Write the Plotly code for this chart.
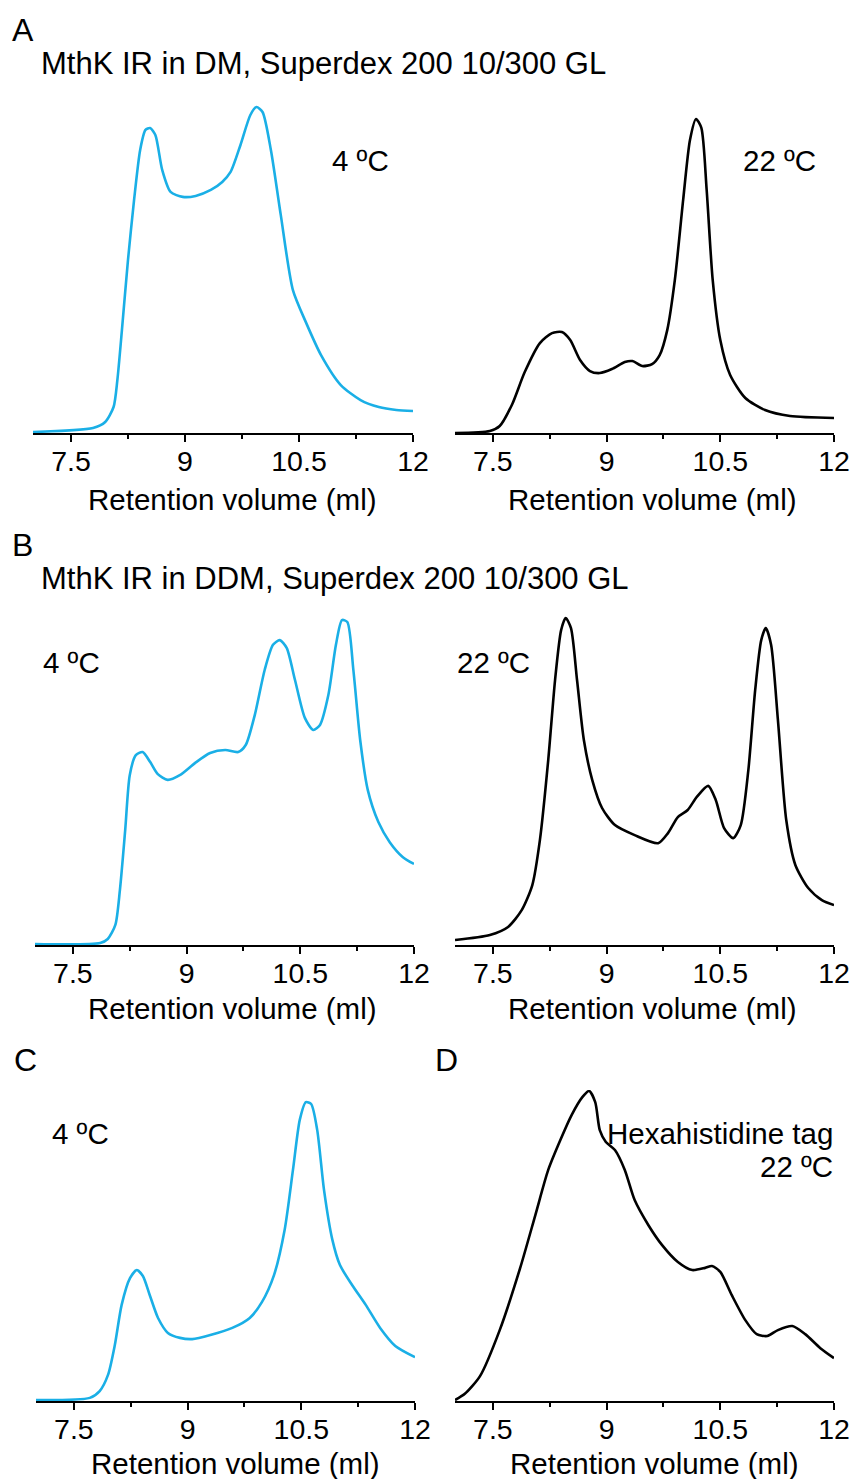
import plotly.graph_objects as go

W, H = 853, 1479
BLUE = "#1AAFE6"
BLACK = "#000000"
FONT = "Liberation Sans, Arial, sans-serif"
FS = 28.5   # tick labels
FT = 29.5   # axis titles and panel texts

# ---------- data (retention volume ml, normalized absorbance) ----------
a4_x = [7.00, 7.79, 7.95, 8.06, 8.11, 8.17, 8.25, 8.33, 8.41, 8.48, 8.54, 8.61, 8.70, 8.81, 8.97,
        9.14, 9.34, 9.49, 9.60, 9.73, 9.86, 9.94, 10.02, 10.13, 10.26, 10.42, 10.59, 10.79, 11.05,
        11.31, 11.55, 11.78, 12.00]
a4_y = [0.003, 0.015, 0.033, 0.078, 0.159, 0.309, 0.520, 0.700, 0.850, 0.910, 0.916, 0.895, 0.790,
        0.724, 0.709, 0.712, 0.730, 0.754, 0.784, 0.865, 0.955, 0.979, 0.964, 0.850, 0.655, 0.429,
        0.333, 0.234, 0.144, 0.099, 0.078, 0.069, 0.066]

a22_x = [7.00, 7.46, 7.59, 7.75, 7.92, 8.12, 8.28, 8.41, 8.52, 8.65, 8.78, 8.91, 9.07, 9.24, 9.34,
         9.47, 9.60, 9.70, 9.80, 9.90, 10.01, 10.10, 10.18, 10.25, 10.32, 10.40, 10.50, 10.63,
         10.83, 11.09, 11.42, 12.00]
a22_y = [0.000, 0.006, 0.021, 0.084, 0.183, 0.270, 0.300, 0.303, 0.279, 0.219, 0.186, 0.180, 0.192,
         0.213, 0.216, 0.201, 0.207, 0.234, 0.309, 0.459, 0.700, 0.880, 0.943, 0.916, 0.730, 0.459,
         0.279, 0.174, 0.105, 0.069, 0.051, 0.045]

b4_x = [7.00, 7.86, 7.96, 8.06, 8.12, 8.19, 8.25, 8.33, 8.42, 8.52, 8.62, 8.75, 8.91, 9.11, 9.31,
        9.51, 9.68, 9.78, 9.90, 10.03, 10.14, 10.23, 10.32, 10.43, 10.56, 10.67, 10.76, 10.87,
        10.97, 11.05, 11.12, 11.20, 11.29, 11.39, 11.53, 11.68, 11.85, 12.00]
b4_y = [0.003, 0.006, 0.018, 0.060, 0.164, 0.343, 0.507, 0.567, 0.576, 0.546, 0.510, 0.493, 0.507,
        0.543, 0.573, 0.582, 0.576, 0.597, 0.687, 0.821, 0.896, 0.910, 0.887, 0.791, 0.678, 0.642,
        0.657, 0.746, 0.896, 0.970, 0.964, 0.821, 0.612, 0.463, 0.367, 0.307, 0.263, 0.242]

b22_x = [7.00, 7.46, 7.70, 7.88, 8.02, 8.12, 8.23, 8.32, 8.40, 8.46, 8.53, 8.61, 8.70, 8.81, 8.94,
         9.11, 9.37, 9.68, 9.81, 9.94, 10.07, 10.19, 10.34, 10.44, 10.55, 10.67, 10.77, 10.87,
         10.96, 11.04, 11.10, 11.17, 11.26, 11.37, 11.49, 11.66, 11.84, 12.00]
b22_y = [0.015, 0.030, 0.054, 0.104, 0.179, 0.313, 0.552, 0.791, 0.940, 0.976, 0.946, 0.791, 0.612,
         0.493, 0.409, 0.358, 0.328, 0.304, 0.334, 0.382, 0.403, 0.442, 0.475, 0.433, 0.349, 0.319,
         0.358, 0.522, 0.761, 0.910, 0.946, 0.896, 0.672, 0.373, 0.239, 0.170, 0.134, 0.119]

c4_x = [7.00, 7.71, 7.84, 7.95, 8.04, 8.13, 8.24, 8.33, 8.41, 8.50, 8.61, 8.74, 8.90, 9.06, 9.30,
        9.59, 9.82, 9.98, 10.14, 10.28, 10.39, 10.48, 10.56, 10.63, 10.71, 10.80, 10.91, 11.01,
        11.17, 11.35, 11.54, 11.74, 12.00]
c4_y = [0.003, 0.010, 0.032, 0.084, 0.180, 0.309, 0.395, 0.421, 0.402, 0.341, 0.267, 0.219, 0.203,
        0.199, 0.212, 0.235, 0.267, 0.318, 0.405, 0.550, 0.743, 0.904, 0.961, 0.955, 0.871, 0.678,
        0.518, 0.437, 0.373, 0.309, 0.235, 0.177, 0.141]

d22_x = [7.00, 7.13, 7.33, 7.59, 7.86, 8.06, 8.23, 8.39, 8.54, 8.68, 8.77, 8.85, 8.91, 8.99, 9.11,
         9.24, 9.37, 9.55, 9.73, 9.94, 10.13, 10.30, 10.39, 10.50, 10.65, 10.83, 10.98, 11.12,
         11.26, 11.45, 11.62, 11.82, 12.00]
d22_y = [0.003, 0.023, 0.080, 0.228, 0.428, 0.598, 0.743, 0.839, 0.920, 0.977, 0.997, 0.961, 0.871,
         0.833, 0.807, 0.743, 0.646, 0.566, 0.502, 0.447, 0.421, 0.428, 0.434, 0.415, 0.341, 0.260,
         0.215, 0.209, 0.228, 0.241, 0.215, 0.170, 0.138]

tick_vals = [7.5, 9, 10.5, 12]
tick_text = ["7.5", "9", "10.5", "12"]
minor_vals = [8.25, 9.75, 11.25]
x_title = "Retention volume (ml)"


def px_x(p):
    return p / W


def px_y(p):
    return 1 - p / H


# panels: (x, y, color, left px, right px, bottom px, top px, axis-title centre px x, y)
panels = [
    (a4_x, a4_y, BLUE, 33, 413, 433, 100, 232, 500),
    (a22_x, a22_y, BLACK, 455, 834, 433, 100, 652, 500),
    (b4_x, b4_y, BLUE, 35, 414, 945, 610, 232, 1008),
    (b22_x, b22_y, BLACK, 455, 834, 945, 610, 652, 1008),
    (c4_x, c4_y, BLUE, 36, 415, 1401, 1090, 235, 1463),
    (d22_x, d22_y, BLACK, 455, 834, 1401, 1090, 654, 1463),
]

fig = go.Figure()
layout = dict(
    width=W, height=H, autosize=False,
    margin=dict(l=0, r=0, t=0, b=0, pad=0),
    paper_bgcolor="white", plot_bgcolor="white",
    showlegend=False,
    font=dict(family=FONT, color="black", size=FS),
)
annotations = []

for i, (xs, ys, col, l, r, b, t, tx, ty) in enumerate(panels, start=1):
    xa = "x" if i == 1 else f"x{i}"
    ya = "y" if i == 1 else f"y{i}"
    fig.add_trace(go.Scatter(
        x=xs, y=ys, mode="lines", xaxis=xa, yaxis=ya,
        line=dict(color=col, width=2.6, shape="spline", smoothing=0.7),
        hoverinfo="skip"))
    key = "" if i == 1 else str(i)
    layout["xaxis" + key] = dict(
        domain=[px_x(l), px_x(r)], anchor=ya, range=[7, 12],
        showline=True, linecolor="black", linewidth=2,
        ticks="outside", ticklen=7, tickwidth=2, tickcolor="black",
        tickvals=tick_vals, ticktext=tick_text, ticklabelstandoff=-5,
        tickfont=dict(family=FONT, size=FS, color="black"),
        minor=dict(ticks="outside", ticklen=4, tickwidth=2, tickcolor="black",
                   tickvals=minor_vals),
        showgrid=False, zeroline=False, fixedrange=True, automargin=False,
    )
    layout["yaxis" + key] = dict(
        domain=[px_y(b), px_y(t)], anchor=xa, range=[0, 1],
        visible=False, showgrid=False, zeroline=False, fixedrange=True,
    )
    annotations.append(dict(
        x=px_x(tx), y=px_y(ty), xref="paper", yref="paper",
        text=x_title, showarrow=False, xanchor="center", yanchor="middle",
        font=dict(family=FONT, size=FT, color="black")))


def txt(s, x, y, size=FT, anchor="left"):
    annotations.append(dict(
        x=px_x(x), y=px_y(y), xref="paper", yref="paper", text=s, showarrow=False,
        xanchor=anchor, yanchor="middle", font=dict(family=FONT, size=size, color="black")))


txt("A", 10, 30, size=32)
txt("MthK IR in DM, Superdex 200 10/300 GL", 39, 63, size=31)
txt("4 ºC", 330, 160)
txt("22 ºC", 741, 160)
txt("B", 10, 545, size=32)
txt("MthK IR in DDM, Superdex 200 10/300 GL", 39, 578, size=31)
txt("4 ºC", 41, 662)
txt("22 ºC", 455, 662)
txt("C", 12, 1060, size=32)
txt("4 ºC", 50, 1133)
txt("D", 433, 1060, size=32)
txt("Hexahistidine tag", 835, 1133, anchor="right")
txt("22 ºC", 835, 1166, anchor="right")

layout["annotations"] = annotations
fig.update_layout(**layout)
fig.write_html(
    "out.html",
    config={"responsive": False, "displayModeBar": False},
    post_script="document.documentElement.style.overflow='hidden';"
                "document.body.style.margin='0';document.body.style.overflow='hidden';",
)
